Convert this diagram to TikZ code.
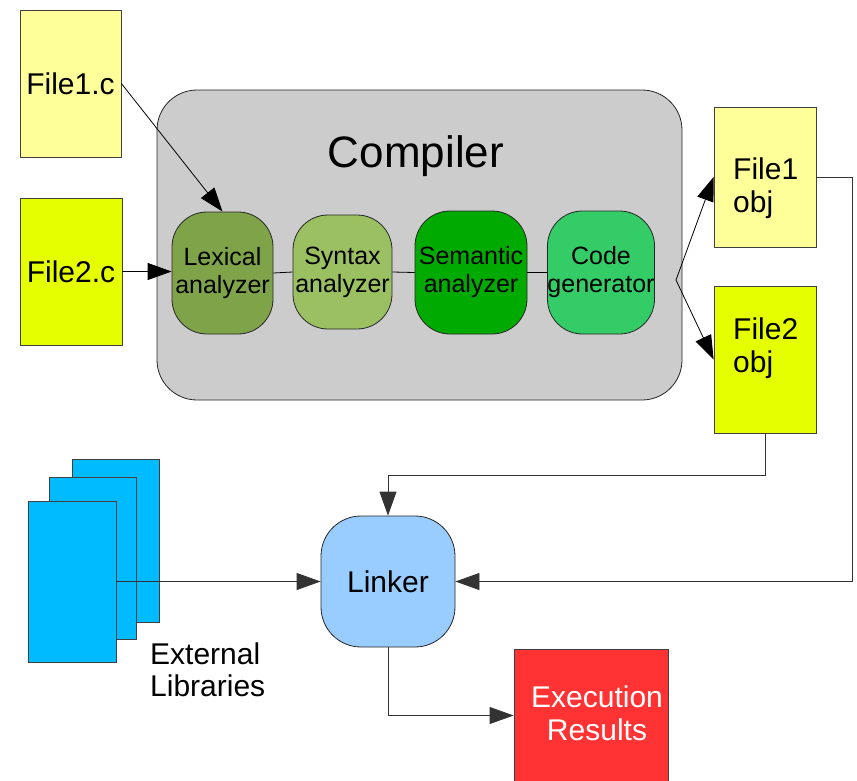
\documentclass[tikz,border=0pt]{standalone}
\usepackage{fontspec}
\setmainfont{Liberation Sans}
\usetikzlibrary{arrows.meta}
\definecolor{lyellow}{RGB}{255,255,153}
\definecolor{gyellow}{RGB}{230,255,0}
\definecolor{compgray}{RGB}{204,204,204}
\definecolor{lexc}{RGB}{127,163,73}
\definecolor{sync}{RGB}{155,192,98}
\definecolor{semc}{RGB}{0,170,0}
\definecolor{codec}{RGB}{51,204,102}
\definecolor{linkc}{RGB}{153,204,255}
\definecolor{libc}{RGB}{0,187,255}
\definecolor{execc}{RGB}{255,51,51}
\tikzset{
  bigfont/.style={font=\fontsize{30}{33}\selectfont},
  docbox/.style={draw=black!75, line width=0.8pt, rectangle, inner sep=0pt, bigfont},
  stagebox/.style={draw=black!85, line width=0.8pt, rounded corners=35pt, inner sep=0pt, align=center, font=\fontsize{25}{28}\selectfont},
  txt/.style={inner sep=0pt, bigfont},
  arr/.style={-{Triangle[length=24pt,width=17pt]}, line width=0.8pt},
  lnk/.style={line width=0.8pt}
}
\begin{document}
\begin{tikzpicture}[x=1pt,y=-1pt]
\useasboundingbox (0,0) rectangle (857,780);
% source files
\node[docbox, fill=lyellow, minimum width=101pt, minimum height=147pt] (f1c) at (70.5,83.5) {File1.c};
\node[docbox, fill=gyellow, minimum width=102pt, minimum height=147pt] (f2c) at (71,271.5) {File2.c};
% compiler
\node[draw=black!85, line width=0.8pt, fill=compgray, rounded corners=40pt, minimum width=525pt, minimum height=310pt] (comp) at (419.5,245) {};
\node[inner sep=0pt, anchor=base, font=\fontsize{44}{48}\selectfont] (complabel) at (416,167) {Compiler};
\node[stagebox, fill=lexc, minimum width=101pt, minimum height=122pt] (lex) at (222.5,273) {Lexical\\analyzer};
\node[stagebox, fill=sync, minimum width=99pt, minimum height=114pt] (syn) at (342.5,272) {Syntax\\analyzer};
\node[stagebox, fill=semc, minimum width=112pt, minimum height=123pt] (sem) at (471,272.5) {Semantic\\analyzer};
\node[stagebox, fill=codec, minimum width=106pt, minimum height=123pt] (code) at (601,272.5) {Code\\generator};
\draw[lnk] (lex.east) -- (syn.west);
\draw[lnk] (syn.east) -- (sem.west);
\draw[lnk] (sem.east) -- (code.west);
\draw[arr] (f1c.east) -- (lex.north);
\draw[arr] (f2c.east) -- (f2c.east -| lex.west);
% object files
\node[docbox, fill=lyellow, minimum width=102pt, minimum height=140pt] (o1) at (765,177) {};
\node[docbox, fill=gyellow, minimum width=102pt, minimum height=147pt] (o2) at (765,359.5) {};
\node[txt, anchor=base west] (o1a) at (733,179) {File1};
\node[txt, anchor=base west] (o1b) at (733,212) {obj};
\node[txt, anchor=base west] (o2a) at (733,339) {File2};
\node[txt, anchor=base west] (o2b) at (733,372) {obj};
\coordinate (fork) at (676,280);
\draw[arr] (fork) -- (o1.west);
\draw[arr] (fork) -- (o2.west);
% linker
\node[draw=black!85, line width=0.8pt, fill=linkc, rounded corners=40pt, minimum width=134pt, minimum height=131pt, bigfont] (lk) at (388,581.5) {Linker};
% external libraries
\node[docbox, fill=libc, minimum width=87pt, minimum height=163pt] (exb) at (115.5,540.5) {};
\node[docbox, fill=libc, minimum width=87pt, minimum height=162pt] (exm) at (92.5,558) {};
\node[docbox, fill=libc, minimum width=88pt, minimum height=161pt] (exf) at (72,581.5) {};
\node[txt, anchor=base west] (ext1) at (150,664) {External};
\node[txt, anchor=base west] (ext2) at (150,696) {Libraries};
% execution
\node[draw=black!75, line width=0.8pt, fill=execc, minimum width=154pt, minimum height=133pt] (ex) at (591,715.5) {};
\node[txt, text=white, anchor=base] (exa) at (597,707) {Execution};
\node[txt, text=white, anchor=base] (exr) at (597,740) {Results};
% links to linker
\draw[arr, draw=black!80] (exf.east) -- (lk.west);
\draw[arr, draw=black!80] (o1.east) -- ++(36,0) |- (lk.east);
\draw[arr, draw=black!80] (o2.south) -- ++(0,42) -| (lk.north);
\draw[arr, draw=black!80] (lk.south) |- (ex.west);
\end{tikzpicture}
\end{document}
